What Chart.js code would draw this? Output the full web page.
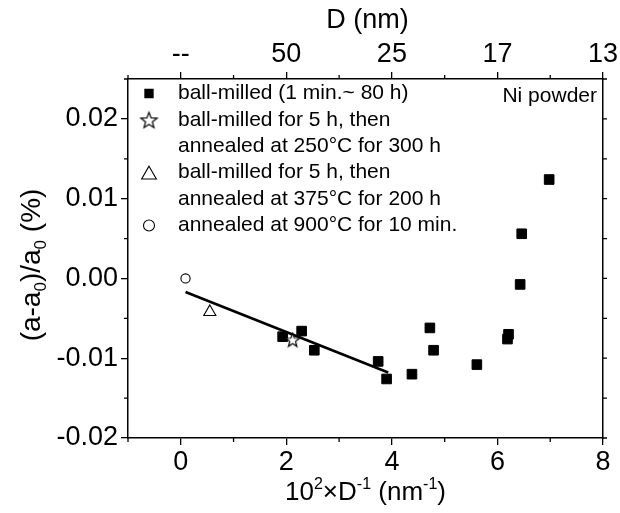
<!DOCTYPE html>
<html>
<head>
<meta charset="utf-8">
<script src="https://cdn.jsdelivr.net/npm/chart.js@4/dist/chart.umd.min.js"></script>
<style>
  html, body { margin: 0; padding: 0; background: #fff; }
  #wrap { width: 620px; height: 513px; }
</style>
</head>
<body>
<div id="wrap"><canvas id="c" width="620" height="513"></canvas></div>
<script>
// Lattice strain of Ni powder vs. inverse crystallite size
const milledX = [1.93, 2.29, 2.53, 3.74, 3.90, 4.38, 4.72, 4.79, 5.61, 6.19, 6.21, 6.43, 6.46, 6.98];
const milledY = [-0.0073, -0.0066, -0.0090, -0.0104, -0.0126, -0.0120, -0.0062, -0.0090, -0.0108, -0.0076, -0.0070, -0.00075, 0.0056, 0.0124];
const anneal250X = [2.12];
const anneal250Y = [-0.0077];
const anneal375X = [0.55];
const anneal375Y = [-0.0042];
const anneal900X = [0.09];
const anneal900Y = [0.0000];
const fitX = [0.09, 3.93];
const fitY = [-0.0017, -0.0118];

const xTicks = [0, 2, 4, 6, 8];
const xMinorTicks = [-1, 1, 3, 5, 7];
const topTickLabels = ['--', '50', '25', '17', '13'];
const yTicks = [-0.02, -0.01, 0, 0.01, 0.02];
const yMinorTicks = [-0.015, -0.005, 0.005, 0.015, 0.025];

const legendRows = [
  { marker: 'square', lines: ['ball-milled (1 min.~ 80 h)'] },
  { marker: 'star', lines: ['ball-milled for 5 h, then', 'annealed at 250°C for 300 h'] },
  { marker: 'triangle', lines: ['ball-milled for 5 h, then', 'annealed at 375°C for 200 h'] },
  { marker: 'circle', lines: ['annealed at 900°C for 10 min.'] }
];
const panelNote = 'Ni powder';

const FONT = '"Liberation Sans", Arial, Helvetica, sans-serif';
Chart.defaults.font.family = FONT;
Chart.defaults.color = '#000';

const pts = (xs, ys) => xs.map((x, i) => ({ x, y: ys[i] }));

// Five-pointed outlined star used as a point style
function makeStar(R) {
  const size = Math.ceil(2 * R + 4);
  const c = document.createElement('canvas');
  c.width = c.height = size;
  const g = c.getContext('2d');
  g.translate(size / 2, size / 2 + R * 0.1);
  g.beginPath();
  for (let i = 0; i < 10; i++) {
    const ang = -Math.PI / 2 + i * Math.PI / 5;
    const rr = i % 2 ? R * 0.42 : R;
    g.lineTo(rr * Math.cos(ang), rr * Math.sin(ang));
  }
  g.closePath();
  g.fillStyle = '#fff';
  g.fill();
  g.lineWidth = 1.2;
  g.strokeStyle = '#000';
  g.stroke();
  return c;
}
const starPlot = makeStar(7.2);
const starLegend = makeStar(8.5);

// Text with superscript (v=1) / subscript (v=-1) pieces, centred on (cx, cy)
function richWidth(ctx, parts, size) {
  let w = 0;
  parts.forEach(p => {
    ctx.font = (p.v ? Math.round(size * 0.62) : size) + 'px ' + FONT;
    w += ctx.measureText(p.t).width;
  });
  return w;
}
function drawRich(ctx, parts, cx, cy, size) {
  const w = richWidth(ctx, parts, size);
  let x = cx - w / 2;
  const base = cy + size * 0.36;
  ctx.textAlign = 'left';
  ctx.textBaseline = 'alphabetic';
  parts.forEach(p => {
    ctx.font = (p.v ? Math.round(size * 0.62) : size) + 'px ' + FONT;
    const dy = p.v === 1 ? -size * 0.42 : (p.v === -1 ? size * 0.2 : 0);
    ctx.fillText(p.t, x, base + dy);
    x += ctx.measureText(p.t).width;
  });
}

const xTitle = [{ t: '10' }, { t: '2', v: 1 }, { t: '×D' }, { t: '-1', v: 1 }, { t: ' (nm' }, { t: '-1', v: 1 }, { t: ')' }];
const x2Title = [{ t: 'D (nm)' }];
const yTitle = [{ t: '(a-a' }, { t: '0', v: -1 }, { t: ')/a' }, { t: '0', v: -1 }, { t: ' (%)' }];

const decorPlugin = {
  id: 'decor',
  afterDraw(chart) {
    const { ctx, chartArea: a, scales } = chart;
    ctx.save();
    ctx.strokeStyle = '#000';
    ctx.fillStyle = '#000';
    ctx.lineWidth = 1.3;
    // minor tick marks
    ctx.beginPath();
    xMinorTicks.forEach(v => {
      const px = scales.x.getPixelForValue(v);
      ctx.moveTo(px, a.bottom); ctx.lineTo(px, a.bottom + 4);
      ctx.moveTo(px, a.top); ctx.lineTo(px, a.top - 4);
    });
    yMinorTicks.forEach(v => {
      const py = scales.y.getPixelForValue(v);
      ctx.moveTo(a.left, py); ctx.lineTo(a.left - 4, py);
    });
    yTicks.concat(yMinorTicks).forEach(v => {
      const py = scales.y.getPixelForValue(v);
      ctx.moveTo(a.right, py); ctx.lineTo(a.right + 4, py);
    });
    ctx.stroke();

    // axis titles
    drawRich(ctx, x2Title, (a.left + a.right) / 2 + 2, 18, 27);
    drawRich(ctx, xTitle, (a.left + a.right) / 2, 491, 26);
    ctx.save();
    ctx.translate(30, 265);
    ctx.rotate(-Math.PI / 2);
    drawRich(ctx, yTitle, 0, 0, 28);
    ctx.restore();

    // legend
    const mx = a.left + 21, tx = a.left + 50;
    const lineGap = 26.4;
    let y = a.top + 14.5;
    ctx.font = '21px ' + FONT;
    ctx.textAlign = 'left';
    ctx.textBaseline = 'middle';
    legendRows.forEach(row => {
      ctx.lineWidth = 1.1;
      ctx.strokeStyle = '#000';
      if (row.marker === 'square') {
        ctx.fillStyle = '#000';
        Chart.helpers.drawPoint(ctx, { pointStyle: 'rect', radius: 5.8, rotation: 0, borderWidth: 1 }, mx, y);
      } else if (row.marker === 'star') {
        Chart.helpers.drawPoint(ctx, { pointStyle: starLegend, radius: 8, rotation: 0, borderWidth: 0 }, mx, y);
      } else if (row.marker === 'triangle') {
        ctx.fillStyle = '#fff';
        Chart.helpers.drawPoint(ctx, { pointStyle: 'triangle', radius: 8.5, rotation: 0, borderWidth: 1.1 }, mx, y + 2);
      } else {
        ctx.fillStyle = '#fff';
        Chart.helpers.drawPoint(ctx, { pointStyle: 'circle', radius: 5.5, rotation: 0, borderWidth: 1.1 }, mx, y);
      }
      ctx.fillStyle = '#000';
      ctx.font = '21px ' + FONT;
      ctx.textBaseline = 'middle';
      row.lines.forEach((ln, k) => {
        ctx.fillText(ln, tx, y + k * lineGap);
      });
      y += row.lines.length * lineGap;
    });
    ctx.textAlign = 'right';
    ctx.fillText(panelNote, a.right - 6, a.top + 17);
    ctx.restore();
  }
};

const axisGrid = { drawOnChartArea: false, drawTicks: true, tickLength: 7, color: '#000', lineWidth: 1.3 };
const axisBorder = { display: true, color: '#000', width: 1.5 };
const setTicks = vals => scale => { scale.ticks = vals.map(v => ({ value: v })); };

new Chart(document.getElementById('c'), {
  type: 'scatter',
  data: {
    datasets: [
      {
        label: 'ball-milled for 5 h, then annealed at 250°C for 300 h',
        data: pts(anneal250X, anneal250Y),
        pointStyle: starPlot, pointRadius: 7, pointHoverRadius: 7,
        order: 0
      },
      {
        label: 'linear fit',
        type: 'line',
        data: pts(fitX, fitY),
        borderColor: '#000', borderWidth: 2.6, pointRadius: 0, fill: false,
        order: 1
      },
      {
        label: 'ball-milled (1 min.~ 80 h)',
        data: pts(milledX, milledY),
        pointStyle: 'rect', pointRadius: 6.8, pointHoverRadius: 6.8,
        backgroundColor: '#000', borderColor: '#000', borderWidth: 1,
        order: 2
      },
      {
        label: 'ball-milled for 5 h, then annealed at 375°C for 200 h',
        data: pts(anneal375X, anneal375Y),
        pointStyle: 'triangle', pointRadius: 7, pointHoverRadius: 7,
        backgroundColor: '#fff', borderColor: '#000', borderWidth: 1.1,
        order: 2
      },
      {
        label: 'annealed at 900°C for 10 min.',
        data: pts(anneal900X, anneal900Y),
        pointStyle: 'circle', pointRadius: 4.6, pointHoverRadius: 4.6,
        backgroundColor: '#fff', borderColor: '#000', borderWidth: 1.1,
        order: 2
      }
    ]
  },
  options: {
    responsive: false,
    animation: false,
    devicePixelRatio: 1,
    layout: { padding: 0 },
    plugins: { legend: { display: false }, tooltip: { enabled: false } },
    scales: {
      x: {
        type: 'linear', position: 'bottom', min: -1, max: 8,
        afterBuildTicks: setTicks(xTicks),
        afterFit: s => { s.height = 75; },
        grid: axisGrid, border: axisBorder,
        ticks: { font: { size: 27 }, color: '#000', padding: 1, maxRotation: 0 }
      },
      x2: {
        type: 'linear', position: 'top', min: -1, max: 8,
        afterBuildTicks: setTicks(xTicks),
        afterFit: s => { s.height = 79; },
        grid: axisGrid, border: axisBorder,
        ticks: {
          font: { size: 27 }, color: '#000', padding: 1, maxRotation: 0,
          callback: v => topTickLabels[xTicks.indexOf(v)]
        }
      },
      y: {
        type: 'linear', position: 'left', min: -0.02, max: 0.025,
        afterBuildTicks: setTicks(yTicks),
        afterFit: s => { s.width = 128; },
        grid: axisGrid, border: axisBorder,
        ticks: { font: { size: 27 }, color: '#000', padding: 3, callback: v => v.toFixed(2) }
      },
      y2: {
        type: 'linear', position: 'right', min: -0.02, max: 0.025,
        afterFit: s => { s.width = 17; },
        grid: { drawOnChartArea: false, drawTicks: false },
        border: axisBorder,
        ticks: { display: false }
      }
    }
  },
  plugins: [decorPlugin]
});
</script>
</body>
</html>
